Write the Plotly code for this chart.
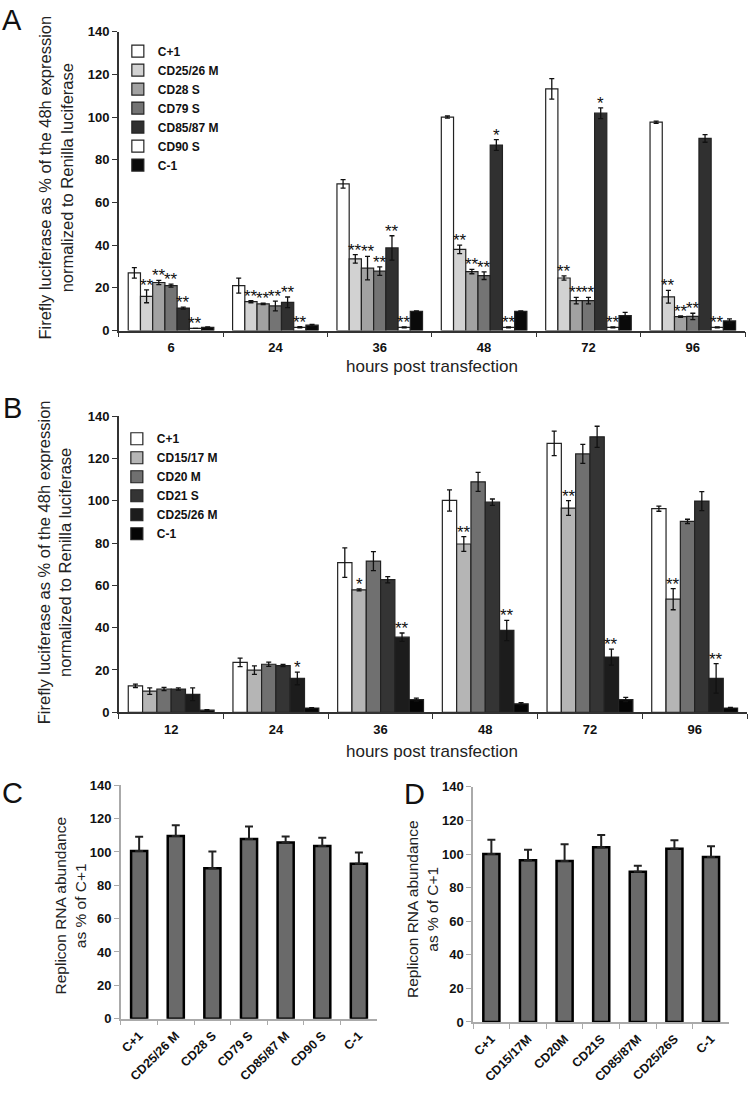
import plotly.graph_objects as go

# ---------------- DATA ----------------
# Panel A
a_times = ["6", "24", "36", "48", "72", "96"]
a_series = ["C+1", "CD25/26 M", "CD28 S", "CD79 S", "CD85/87 M", "CD90 S", "C-1"]
a_c_plus = [27, 21, 68.7, 100, 113.2, 97.6]
a_c_plus_err = [2.5, 3.5, 2, 0.5, 4.8, 0.5]
a_cd25 = [16, 13.5, 33.6, 38, 24.6, 15.8]
a_cd25_err = [3, 0.5, 2, 2, 1, 3]
a_cd28 = [22.5, 12.5, 29.2, 27.6, 14, 6.5]
a_cd28_err = [1, 0.3, 5.5, 1, 1.5, 0.3]
a_cd79 = [21, 11.5, 27.8, 25.7, 14, 6.6]
a_cd79_err = [0.7, 2.3, 2, 1.8, 1.5, 1.5]
a_cd85 = [10.5, 13.2, 38.7, 86.9, 101.8, 90]
a_cd85_err = [0.5, 2.5, 5.7, 2.5, 2.5, 1.8]
a_cd90 = [1, 1.5, 1.5, 1.5, 1.5, 1.5]
a_cd90_err = [0, 0.3, 0.2, 0.2, 0.2, 0.2]
a_c_minus = [1.5, 2.5, 9, 9, 7, 4.5]
a_c_minus_err = [0.2, 0.4, 0.2, 0.2, 1.5, 1]
a_stars_cd25 = ["**", "**", "**", "**", "**", "**"]
a_stars_cd28 = ["**", "**", "**", "**", "**", "**"]
a_stars_cd79 = ["**", "**", "**", "**", "**", "**"]
a_stars_cd85 = ["**", "**", "**", "*", "*", ""]
a_stars_cd90 = ["**", "**", "**", "**", "**", "**"]

# Panel B
b_times = ["12", "24", "36", "48", "72", "96"]
b_series = ["C+1", "CD15/17 M", "CD20 M", "CD21 S", "CD25/26 M", "C-1"]
b_c_plus = [12.5, 23.6, 70.8, 100.2, 127.2, 96.3]
b_c_plus_err = [0.8, 2, 7, 5, 5.8, 1.2]
b_cd15 = [10, 19.9, 57.9, 79.6, 96.6, 53.5]
b_cd15_err = [1.5, 2, 0.5, 3.5, 3.5, 5]
b_cd20 = [11, 22.7, 71.5, 109, 122.2, 90.3]
b_cd20_err = [0.8, 1, 4.5, 4.5, 4.5, 1]
b_cd21 = [11, 22.1, 62.7, 99.4, 130.3, 99.9]
b_cd21_err = [0.5, 0.5, 1.5, 1.5, 5, 4.5]
b_cd25 = [8.5, 16, 35.5, 38.7, 26.1, 16]
b_cd25_err = [3, 3, 2, 4.8, 3.8, 7]
b_c_minus = [1, 2, 6, 4, 6, 2]
b_c_minus_err = [0.2, 0.2, 0.7, 0.5, 1, 0.3]
b_stars_cd15 = ["", "", "*", "**", "**", "**"]
b_stars_cd25 = ["", "*", "**", "**", "**", "**"]

# Panel C
c_labels = ["C+1", "CD25/26 M", "CD28 S", "CD79 S", "CD85/87 M", "CD90 S", "C-1"]
c_values = [100.6, 109.5, 90.2, 107.7, 105.7, 103.5, 92.9]
c_err = [8.5, 6.5, 10, 7.5, 3.5, 5, 6.8]

# Panel D
d_labels = ["C+1", "CD15/17M", "CD20M", "CD21S", "CD85/87M", "CD25/26S", "C-1"]
d_values = [100, 96.3, 95.9, 104, 89.4, 103.1, 98.2]
d_err = [8.6, 6.2, 10, 7.4, 3.7, 5.1, 6.5]

# ---------------- STYLE ----------------
W, H = 750, 1099
FONT = "Arial, Liberation Sans, sans-serif"
a_colors = ["#ffffff", "#d2d2d2", "#a2a2a2", "#747474", "#303030", "#ffffff", "#0a0a0a"]
b_colors = ["#ffffff", "#b5b5b5", "#707070", "#343434", "#1c1c1c", "#050505"]
BARGAP = 0.18


def px(x):
    return x / W


def py(y):
    return 1 - y / H


fig = go.Figure()

a_vals = [a_c_plus, a_cd25, a_cd28, a_cd79, a_cd85, a_cd90, a_c_minus]
a_errs = [a_c_plus_err, a_cd25_err, a_cd28_err, a_cd79_err, a_cd85_err, a_cd90_err, a_c_minus_err]
for name, vals, errs, col in zip(a_series, a_vals, a_errs, a_colors):
    fig.add_trace(go.Bar(
        x=a_times, y=vals, name=name, xaxis="x", yaxis="y", legend="legend",
        marker=dict(color=col, line=dict(color="#222222", width=1.2)),
        error_y=dict(type="data", array=errs, visible=True, color="#111111", thickness=1.3, width=2.5),
    ))

b_vals = [b_c_plus, b_cd15, b_cd20, b_cd21, b_cd25, b_c_minus]
b_errs = [b_c_plus_err, b_cd15_err, b_cd20_err, b_cd21_err, b_cd25_err, b_c_minus_err]
for name, vals, errs, col in zip(b_series, b_vals, b_errs, b_colors):
    fig.add_trace(go.Bar(
        x=b_times, y=vals, name=name, xaxis="x2", yaxis="y2", legend="legend2",
        marker=dict(color=col, line=dict(color="#222222", width=1.2)),
        error_y=dict(type="data", array=errs, visible=True, color="#111111", thickness=1.3, width=2.5),
    ))

fig.add_trace(go.Bar(
    x=c_labels, y=c_values, xaxis="x3", yaxis="y3", showlegend=False, width=0.44,
    marker=dict(color="#6a6a6a", line=dict(color="#000000", width=2.5)),
    error_y=dict(type="data", array=c_err, arrayminus=[0] * len(c_err), symmetric=False,
                 visible=True, color="#222222", thickness=2, width=4),
))
fig.add_trace(go.Bar(
    x=d_labels, y=d_values, xaxis="x4", yaxis="y4", showlegend=False, width=0.44,
    marker=dict(color="#6a6a6a", line=dict(color="#000000", width=2.5)),
    error_y=dict(type="data", array=d_err, arrayminus=[0] * len(d_err), symmetric=False,
                 visible=True, color="#222222", thickness=2, width=4),
))

annotations = []


def star_ann(xref, yref, n_series, idx_series, stars, vals, errs):
    bw = (1 - BARGAP) / n_series
    for ci, s in enumerate(stars):
        if not s:
            continue
        xpos = ci - (1 - BARGAP) / 2 + (idx_series + 0.5) * bw
        annotations.append(dict(
            x=xpos, y=vals[ci] + errs[ci], xref=xref, yref=yref, text=s, showarrow=False,
            yanchor="bottom", xanchor="center", yshift=-7,
            font=dict(family=FONT, size=17, color="#111111")))


star_ann("x", "y", 7, 1, a_stars_cd25, a_cd25, a_cd25_err)
star_ann("x", "y", 7, 2, a_stars_cd28, a_cd28, a_cd28_err)
star_ann("x", "y", 7, 3, a_stars_cd79, a_cd79, a_cd79_err)
star_ann("x", "y", 7, 4, a_stars_cd85, a_cd85, a_cd85_err)
star_ann("x", "y", 7, 5, a_stars_cd90, a_cd90, a_cd90_err)
star_ann("x2", "y2", 6, 1, b_stars_cd15, b_cd15, b_cd15_err)
star_ann("x2", "y2", 6, 4, b_stars_cd25, b_cd25, b_cd25_err)

# panel letters
for letter, x, y in [("A", 11, 13), ("B", 12, 407), ("C", 12, 797), ("D", 414, 798)]:
    annotations.append(dict(x=px(x), y=py(y), xref="paper", yref="paper", text=letter,
                            showarrow=False, xanchor="center", yanchor="middle",
                            font=dict(family=FONT, size=29, color="#111111")))

# y titles
ytitle_main = "Firefly luciferase as % of the 48h expression<br>normalized to Renilla luciferase"
ytitle_rna = "Replicon RNA abundance<br>as % of C+1"
for txt, x, y, size in [(ytitle_main, 55, 173, 16.5), (ytitle_main, 53, 563, 16.5),
                        (ytitle_rna, 70, 911, 15.5), (ytitle_rna, 422, 914, 15.5)]:
    annotations.append(dict(x=px(x), y=py(y), xref="paper", yref="paper", text=txt,
                            showarrow=False, textangle=-90, xanchor="center", yanchor="middle",
                            font=dict(family=FONT, size=size, color="#222222")))

# x titles
for x, y in [(432, 364), (432, 755)]:
    annotations.append(dict(x=px(x), y=py(y), xref="paper", yref="paper",
                            text="hours post transfection", showarrow=False,
                            xanchor="center", yanchor="middle",
                            font=dict(family=FONT, size=17, color="#222222")))


def xax(domain, anchor, color, tickangle=0, size=13, standoff=6):
    return dict(domain=domain, anchor=anchor, type="category", showline=True, linecolor=color,
                linewidth=1.5, ticks="outside", tickson="boundaries", ticklen=5, tickcolor=color,
                tickwidth=1.3, showgrid=False, zeroline=False, tickangle=tickangle,
                ticklabelstandoff=standoff,
                tickfont=dict(family=FONT, size=size, color="#111111", weight="bold"))


def yax(domain, anchor, color, size=13):
    return dict(domain=domain, anchor=anchor, range=[0, 140], dtick=20, showline=True,
                linecolor=color, linewidth=1.5, ticks="outside", ticklen=5, tickcolor=color,
                tickwidth=1.3, showgrid=False, zeroline=False,
                tickfont=dict(family=FONT, size=size, color="#111111", weight="bold"))


legend_font = dict(family=FONT, size=12, color="#111111", weight="bold")

fig.update_layout(
    width=W, height=H, margin=dict(l=0, r=0, t=0, b=0),
    paper_bgcolor="white", plot_bgcolor="white",
    barmode="group", bargap=BARGAP, bargroupgap=0,
    xaxis=xax([px(118), px(745)], "y", "#333333", standoff=4),
    yaxis=yax([py(328), py(25)], "x", "#333333"),
    xaxis2=xax([px(118), px(747)], "y2", "#333333", standoff=4),
    yaxis2=yax([py(715), py(415)], "x2", "#333333"),
    xaxis3=xax([px(120), px(376.7)], "y3", "#aaaaaa", tickangle=-45, size=12.5, standoff=3),
    yaxis3=yax([py(1025.7), py(789)], "x3", "#aaaaaa"),
    xaxis4=xax([px(472.7), px(729.3)], "y4", "#aaaaaa", tickangle=-45, size=12.5, standoff=3),
    yaxis4=yax([py(1029), py(790.7)], "x4", "#aaaaaa"),
    legend=dict(x=px(117), y=py(30), xanchor="left", yanchor="top", bgcolor="rgba(0,0,0,0)",
                font=legend_font, itemwidth=30, tracegroupgap=0),
    legend2=dict(x=px(116), y=py(423), xanchor="left", yanchor="top", bgcolor="rgba(0,0,0,0)",
                 font=legend_font, itemwidth=30, tracegroupgap=0),
    annotations=annotations,
    showlegend=True,
)

fig.write_html("out.html", config={"displayModeBar": False},
               post_script="document.body.style.margin='0px';")
